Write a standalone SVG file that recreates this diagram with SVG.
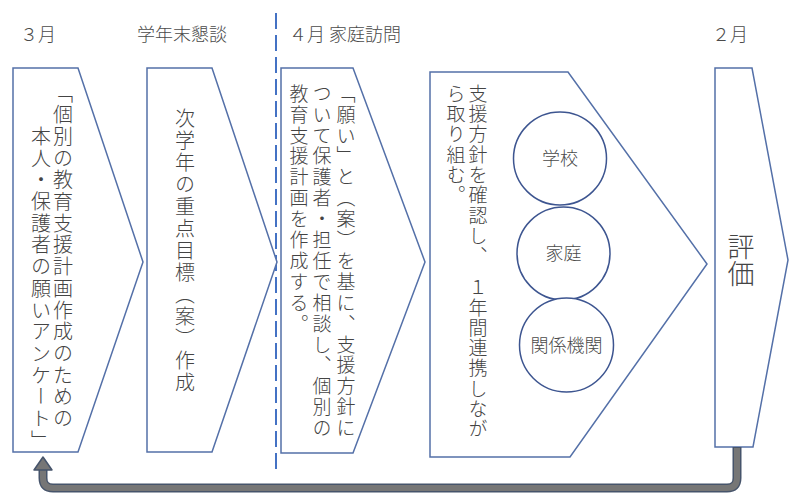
<svg xmlns="http://www.w3.org/2000/svg" width="798" height="497" viewBox="0 0 798 497">
<style>
.chev{fill:#ffffff;stroke:#5470a8;stroke-width:1.5;stroke-linejoin:miter}
.circ{fill:#ffffff;stroke:#3d5590;stroke-width:1.5}
.hdr{font-family:"Noto Sans CJK JP","Noto Sans",sans-serif;font-size:18px;font-weight:300;fill:#4a4a4a}
.vt{font-family:"Noto Sans CJK JP","Noto Sans",sans-serif;font-weight:300;fill:#444444;writing-mode:vertical-rl}
.ct{font-family:"Noto Sans CJK JP","Noto Sans",sans-serif;font-size:18px;font-weight:300;fill:#4a4a4a;text-anchor:middle}
</style>
<rect width="798" height="497" fill="#ffffff"/>
<g id="headers">
<text class="hdr" x="20" y="41">３月</text>
<text class="hdr" x="137" y="41">学年末懇談</text>
<text class="hdr" x="289" y="41">４月 家庭訪問</text>
<text class="hdr" x="712" y="41">２月</text>
</g>
<g id="divider">
<line x1="276" y1="13" x2="276" y2="470" stroke="#4472c4" stroke-width="2" stroke-dasharray="16 6"/>
</g>
<g id="node1">
<polygon class="chev" points="13,68 78,68 143,262 78,452 13,452"/>
<text class="vt" x="63" y="83" style="font-size:20px;letter-spacing:1.7px">「個別の教育支援計画作成のための</text>
<text class="vt" x="41" y="126.4" style="font-size:20px;letter-spacing:1.7px">本人・保護者の願いアンケート」</text>
</g>
<g id="node2">
<polygon class="chev" points="147,68 212,68 277,262 212,452 147,452"/>
<text class="vt" x="185" y="108" style="font-size:20px;letter-spacing:2px">次学年の重点目標（案）作成</text>
</g>
<g id="node3">
<polygon class="chev" points="281,68 353,68 425,262 353,453 281,453"/>
<text class="vt" x="346" y="84" style="font-size:19px;letter-spacing:1.9px">「願い」と（案）を基に、支援方針に</text>
<text class="vt" x="322" y="84" style="font-size:19px;letter-spacing:1.9px">ついて保護者・担任で相談し、個別の</text>
<text class="vt" x="299" y="84" style="font-size:19px;letter-spacing:1.9px">教育支援計画を作成する。</text>
</g>
<g id="node4">
<polygon class="chev" points="430,72 568,72 707,264 570,457 430,457"/>
<text class="vt" x="478" y="84" style="font-size:19px;letter-spacing:1.3px">支援方針を確認し、　１年間連携しなが</text>
<text class="vt" x="456" y="84" style="font-size:19px;letter-spacing:1.3px">ら取り組む。</text>
</g>
<g id="school">
<circle class="circ" cx="560" cy="158.5" r="46.5"/>
<text class="ct" x="560" y="165">学校</text>
</g>
<g id="home">
<circle class="circ" cx="563.5" cy="253.5" r="46.5"/>
<text class="ct" x="563.5" y="260">家庭</text>
</g>
<g id="agencies">
<circle class="circ" cx="566.5" cy="345" r="47"/>
<text class="ct" x="566.5" y="351.5">関係機関</text>
</g>
<g id="node5">
<polygon class="chev" points="715,68 752,68 788,260 753,447 715,447"/>
<text class="vt" x="741" y="233" style="font-size:27px">評価</text>
</g>
<g id="connectors">
<path d="M737,447 V478 Q737,488 727,488 H53 Q43,488 43,478 V469" fill="none" stroke="#46546b" stroke-width="9"/>
<path d="M737,448 V478 Q737,488 727,488 H53 Q43,488 43,478 V468" fill="none" stroke="#767676" stroke-width="6"/>
<polygon points="43,457 52,470 34,470" fill="#767676" stroke="#46546b" stroke-width="1.5" stroke-linejoin="round"/>
</g>
</svg>
